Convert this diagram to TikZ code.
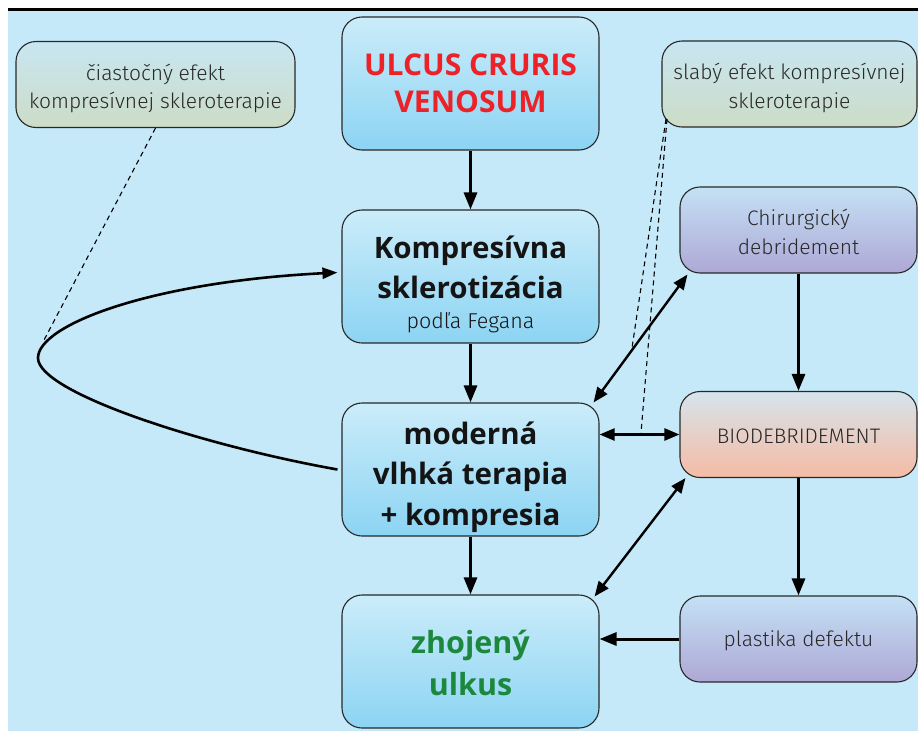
\documentclass[tikz,border=0pt]{standalone}
\usepackage{fontspec}
\setmainfont{Open Sans}
\newfontfamily\lightfont{Fira Sans Light}
\usetikzlibrary{arrows.meta}
\definecolor{bg}{RGB}{197,233,249}
\definecolor{mtop}{RGB}{203,236,250}
\definecolor{mbot}{RGB}{140,212,243}
\definecolor{gtop}{RGB}{200,230,242}
\definecolor{gbot}{RGB}{204,220,198}
\definecolor{ptop}{RGB}{196,225,245}
\definecolor{pbot}{RGB}{174,168,214}
\definecolor{otop}{RGB}{214,228,236}
\definecolor{obot}{RGB}{245,187,164}
\definecolor{boxline}{RGB}{40,40,40}
\definecolor{txt}{RGB}{20,20,20}
\definecolor{ltxt}{RGB}{40,40,40}
\definecolor{ured}{RGB}{237,33,40}
\definecolor{hgreen}{RGB}{28,136,62}
\tikzset{
  box/.style={draw=boxline, line width=1.1pt, rounded corners=20pt, inner sep=0pt},
  mainbox/.style={box, minimum width=257pt, minimum height=133pt, top color=mtop, bottom color=mbot},
  notebox/.style={box, minimum height=86pt, top color=gtop, bottom color=gbot},
  sidebox/.style={box, minimum width=237pt, minimum height=86pt},
  maintxt/.style={inner sep=0pt, align=center, text=txt, font=\bfseries\fontsize{29.5}{40.5}\selectfont},
  lighttxt/.style={inner sep=0pt, align=center, text=ltxt, font=\lightfont\fontsize{21}{28.5}\selectfont},
  arr/.style={line width=3pt, -{Triangle[length=17pt,width=13pt]}},
  darr/.style={line width=2.4pt, {Triangle[length=15pt,width=12pt]}-{Triangle[length=15pt,width=12pt]}},
  loopline/.style={line width=2.6pt, -{Triangle[length=15pt,width=11pt]}},
  hint/.style={line width=1.1pt, dash pattern=on 5pt off 4pt},
}
\begin{document}
\begin{tikzpicture}[x=1pt,y=-1pt]
\useasboundingbox (0,0) rectangle (918,731);
\fill[bg] (8,11) rectangle (918,731);
\draw[line width=3.2pt] (8,9.5) -- (918,9.5);

% main column boxes
\node[mainbox] (ulcus) at (470.5,83.5) {};
\node[mainbox] (komp) at (470.5,276.5) {};
\node[mainbox] (mod) at (470.5,469.5) {};
\node[mainbox] (zho) at (470.5,661.5) {};
% main column texts
\node[maintxt, text=ured, font=\bfseries\fontsize{30}{37}\selectfont] (ulcust) at (470.5,83.5) {ULCUS CRURIS\\VENOSUM};
\node[maintxt] (kompt) at (470.5,284) {Kompresívna\\sklerotizácia\\[-11pt]{\normalfont\lightfont\fontsize{21.5}{22}\selectfont podľa Fegana}};
\node[maintxt] (modt) at (470.5,477) {moderná\\vlhká terapia\\+ kompresia};
\node[maintxt, text=hgreen, font=\bfseries\fontsize{30.5}{42}\selectfont] (zhot) at (470.5,663) {zhojený\\ulkus};

% notes
\node[notebox, minimum width=279pt] (ciast) at (155.5,84.5) {};
\node[lighttxt] (ciastt) at (155.5,88.5) {čiastočný efekt\\kompresívnej skleroterapie};
\node[notebox, minimum width=255pt] (slaby) at (789.5,84) {};
\node[lighttxt] (slabyt) at (789.5,88) {slabý efekt kompresívnej\\skleroterapie};

% right column
\node[sidebox, top color=ptop, bottom color=pbot] (chir) at (798.5,230) {};
\node[lighttxt] (chirt) at (798.5,232) {Chirurgický\\debridement};
\node[sidebox, top color=otop, bottom color=obot] (bio) at (798.5,434.5) {};
\node[lighttxt] (biot) at (798.5,436.5) {BIODEBRIDEMENT};
\node[sidebox, top color=ptop, bottom color=pbot] (plast) at (798.5,639) {};
\node[lighttxt] (plastt) at (798.5,641) {plastika defektu};

% vertical arrows
\draw[arr] (ulcus.south) -- (komp.north);
\draw[arr] (komp.south) -- (mod.north);
\draw[arr] (mod.south) -- (zho.north);
\draw[arr] (chir.south) -- (bio.north);
\draw[arr] (bio.south) -- (plast.north);
\draw[arr] (plast.west) -- (plast.west -| zho.east);

% double arrows
\draw[darr] (bio.west -| mod.east) -- (bio.west);
\draw[darr] ([xshift=-6pt]mod.north east) -- ([xshift=8pt,yshift=-1pt]chir.south west);
\draw[darr] ([xshift=-5pt,yshift=-2pt]zho.north east) -- ([xshift=6pt]bio.south west);

% loop
\draw[loopline] ([xshift=-4pt]mod.west) .. controls (200,445) and (38,392) .. (38,358)
   .. controls (38,325) and (150,282) .. ([xshift=-4pt,yshift=4pt]komp.west);

% dashed hints
\coordinate (cend) at (43,342);
\coordinate (send1) at (632,348);
\coordinate (send2) at (641,433);
\coordinate (sstart) at (666,119);
\draw[hint] (ciast.south) -- (cend);
\draw[hint] (sstart) -- (send1);
\draw[hint] ([xshift=1pt]sstart) -- (send2);
\end{tikzpicture}
\end{document}
